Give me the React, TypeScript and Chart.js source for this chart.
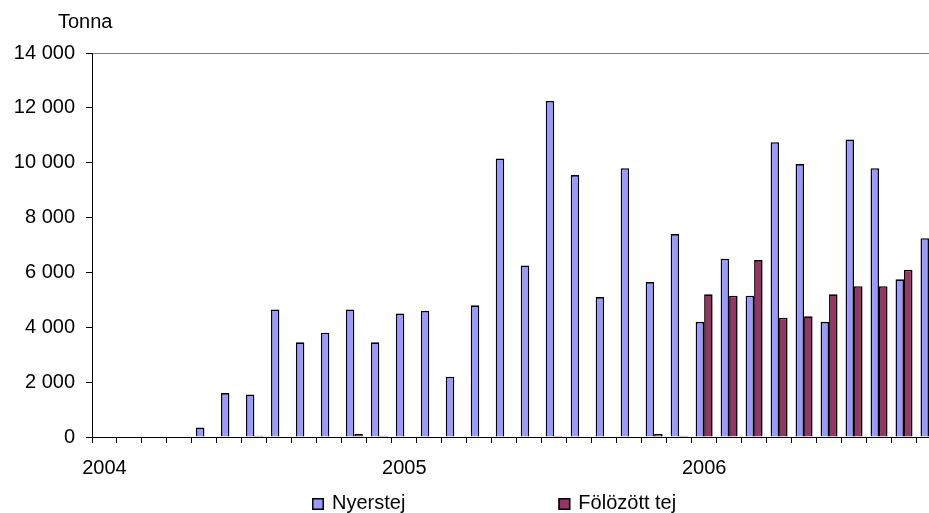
import React, { useEffect, useRef } from "react";
import { Chart, registerables } from "chart.js";

Chart.register(...registerables);

const categories = [
  "2004-01", "2004-02", "2004-03", "2004-04", "2004-05", "2004-06",
  "2004-07", "2004-08", "2004-09", "2004-10", "2004-11", "2004-12",
  "2005-01", "2005-02", "2005-03", "2005-04", "2005-05", "2005-06",
  "2005-07", "2005-08", "2005-09", "2005-10", "2005-11", "2005-12",
  "2006-01", "2006-02", "2006-03", "2006-04", "2006-05", "2006-06",
  "2006-07", "2006-08", "2006-09", "2006-10",
];

const nyerstej = [
  0, 0, 0, 0, 350, 1600, 1550, 4650, 3450, 3800, 4650, 3450,
  4500, 4600, 2200, 4800, 10150, 6250, 12250, 9550, 5100, 9800, 5650, 7400,
  4200, 6500, 5150, 10750, 9950, 4200, 10850, 9800, 5750, 7250,
];

const folozottTej = [
  0, 0, 0, 0, 0, 0, 50, 0, 0, 0, 120, 50,
  0, 0, 0, 0, 0, 0, 50, 0, 0, 0, 110, 50,
  5200, 5150, 6450, 4350, 4400, 5200, 5500, 5500, 6100, null,
];

const seriesNames = ["Nyerstej", "Fölözött tej"];
const yAxisTitle = "Tonna";
const yTicks = [0, 2000, 4000, 6000, 8000, 10000, 12000, 14000];

const FONT = "'Liberation Sans', Arial, sans-serif";
const FONT_SIZE = 20;

function fmt(v: number): string {
  const s = Math.round(v).toString();
  return s.replace(/\B(?=(\d{3})+(?!\d))/g, " ");
}

const decorPlugin = {
  id: "decor",
  afterDraw(chart: any) {
    const ctx = chart.ctx as CanvasRenderingContext2D;
    const area = chart.chartArea;
    ctx.save();
    ctx.font = `${FONT_SIZE}px ${FONT}`;
    ctx.fillStyle = "#000";
    ctx.textBaseline = "alphabetic";
    ctx.textAlign = "left";
    ctx.fillText(yAxisTitle, area.left - 34, 28);

    // legend
    let x = area.left + 220;
    const boxY = 498;
    const box = 12;
    chart.data.datasets.forEach((ds: any) => {
      ctx.fillStyle = ds.backgroundColor;
      ctx.fillRect(x, boxY, box, box);
      ctx.strokeStyle = "#000";
      ctx.lineWidth = 1.5;
      ctx.strokeRect(x + 0.75, boxY + 0.75, box - 1.5, box - 1.5);
      ctx.fillStyle = "#000";
      ctx.fillText(ds.label, x + box + 8, 509);
      const w = ctx.measureText(ds.label).width;
      x += box + 8 + w + 153;
    });
    ctx.restore();
  },
};

export default function App() {
  const ref = useRef<HTMLCanvasElement | null>(null);

  useEffect(() => {
    if (!ref.current) return;
    const chart = new Chart(ref.current, {
      type: "bar",
      data: {
        labels: categories,
        datasets: [
          {
            label: seriesNames[0],
            data: nyerstej,
            backgroundColor: "#9999FF",
            borderColor: "#000000",
            borderWidth: 1.6,
            categoryPercentage: 0.68,
            barPercentage: 1,
          },
          {
            label: seriesNames[1],
            data: folozottTej as any,
            backgroundColor: "#993366",
            borderColor: "#000000",
            borderWidth: 1.6,
            categoryPercentage: 0.68,
            barPercentage: 1,
          },
        ],
      },
      options: {
        responsive: false,
        animation: false,
        layout: { padding: { top: 53, left: 0, right: 0, bottom: 33 } },
        plugins: {
          legend: { display: false },
          tooltip: { enabled: false },
          title: { display: false },
        },
        scales: {
          x: {
            type: "category",
            offset: true,
            grid: {
              offset: true,
              drawOnChartArea: false,
              color: "#000",
              tickColor: "#000",
              tickLength: 6,
              lineWidth: 1,
            },
            border: { color: "#000", width: 1 },
            ticks: {
              autoSkip: false,
              maxRotation: 0,
              minRotation: 0,
              padding: 13,
              color: "#000",
              font: { family: FONT, size: FONT_SIZE },
              callback: (_v: any, i: number) => {
                const c = categories[i];
                return c && c.endsWith("-01") ? c.slice(0, 4) : "";
              },
            },
            afterFit: (s: any) => {
              s.height = 43;
            },
          },
          y: {
            min: yTicks[0],
            max: yTicks[yTicks.length - 1],
            grid: {
              color: (ctx: any) =>
                ctx.tick && ctx.tick.value === yTicks[yTicks.length - 1]
                  ? "#808080"
                  : "rgba(0,0,0,0)",
              tickColor: "#000",
              tickLength: 6,
              lineWidth: 1,
            },
            border: { color: "#000", width: 1 },
            ticks: {
              stepSize: 2000,
              padding: 11,
              color: "#000",
              font: { family: FONT, size: FONT_SIZE },
              callback: (v: any) => fmt(Number(v)),
            },
            afterFit: (s: any) => {
              s.width = 92;
            },
          },
        },
      },
      plugins: [decorPlugin],
    });
    return () => chart.destroy();
  }, []);

  return (
    <div
      style={{
        position: "fixed",
        left: 0,
        top: 0,
        width: 929,
        height: 513,
        overflow: "hidden",
        background: "#fff",
      }}
    >
      <canvas ref={ref} width={942} height={513} style={{ display: "block" }} />
    </div>
  );
}
